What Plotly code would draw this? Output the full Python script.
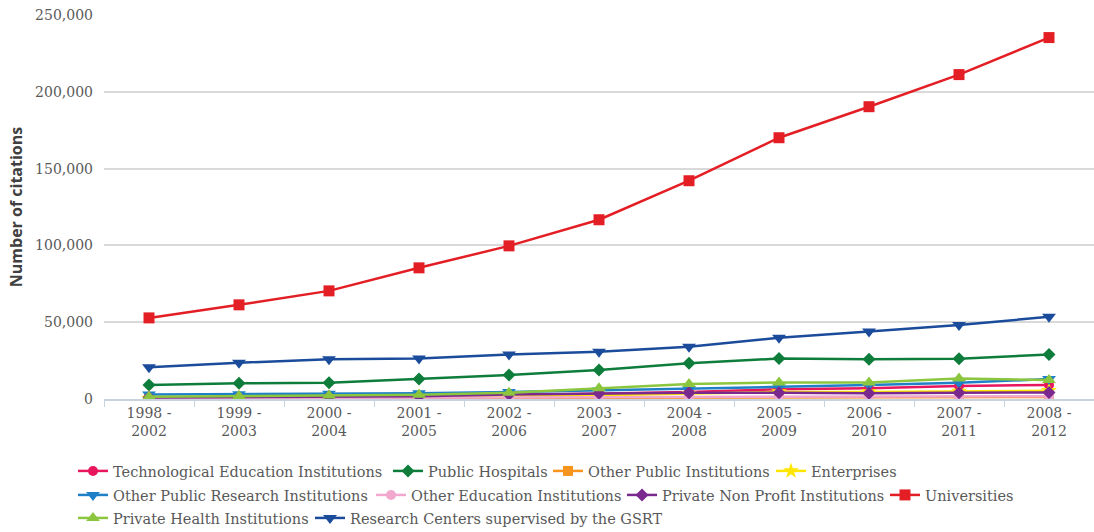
import plotly.graph_objects as go

periods = ["1998 -<br>2002", "1999 -<br>2003", "2000 -<br>2004", "2001 -<br>2005",
           "2002 -<br>2006", "2003 -<br>2007", "2004 -<br>2008", "2005 -<br>2009",
           "2006 -<br>2010", "2007 -<br>2011", "2008 -<br>2012"]

tech_education = [1000, 1200, 1500, 1900, 2500, 3500, 4500, 6300, 7000, 8500, 9100]
public_hospitals = [9100, 10200, 10600, 13000, 15600, 18900, 23200, 26400, 25800, 26200, 29000]
other_public_inst = [300, 350, 400, 450, 550, 650, 800, 1100, 1000, 1200, 1300]
enterprises = [500, 700, 1000, 1300, 1800, 2500, 3500, 4600, 4600, 5000, 5400]
other_public_research = [3000, 3100, 3400, 3700, 4500, 5500, 6500, 7900, 9100, 10600, 13000]
other_education = [500, 600, 700, 800, 1000, 1200, 1400, 1600, 1500, 1700, 1800]
private_non_profit = [900, 1100, 1400, 1800, 3000, 3700, 4000, 4100, 3700, 4100, 4200]
universities = [52800, 61300, 70400, 85400, 99700, 116700, 142100, 170100, 190300, 211200, 235300]
private_health = [1500, 2000, 2200, 2800, 4100, 7000, 9700, 10800, 10800, 13400, 12300]
research_centers = [20600, 23600, 25800, 26400, 29000, 30700, 34000, 39900, 44000, 48100, 53500]

# (name, values, colour, marker symbol, marker size)
series = [
    ("Technological Education Institutions", tech_education, "#e8175d", "circle", 10),
    ("Public Hospitals", public_hospitals, "#0e7d3b", "diamond", 10),
    ("Other Public Institutions", other_public_inst, "#f7941d", "square", 10),
    ("Enterprises", enterprises, "#ffe600", "star", 12),
    ("Other Public Research Institutions", other_public_research, "#1f80c8", "triangle-down", 12),
    ("Other Education Institutions", other_education, "#f2a7cf", "circle", 10),
    ("Private Non Profit Institutions", private_non_profit, "#7a2a8e", "diamond", 10),
    ("Universities", universities, "#e31e24", "square", 11),
    ("Private Health Institutions", private_health, "#8cc63f", "triangle-up", 12),
    ("Research Centers supervised by the GSRT", research_centers, "#1b4b9b", "triangle-down", 12),
]

# Legend entry placement (text left edge in px, row top in px), one legend box per entry
legend_slots = [(113, 455), (428, 455), (588, 455), (811, 455),
                (113, 479), (411, 479), (662, 479), (925, 479),
                (113, 502), (350, 502)]

serif = "DejaVu Serif"
text_grey = "#595959"

fig = go.Figure()
legend_layout = {}
for i, ((name, vals, color, sym, size), (tx, ty)) in enumerate(zip(series, legend_slots)):
    key = "legend" if i == 0 else f"legend{i + 1}"
    fig.add_trace(go.Scatter(
        x=periods, y=vals, name=name, mode="lines+markers",
        line=dict(color=color, width=2.5),
        marker=dict(symbol=sym, size=size, color=color),
        legend=key,
    ))
    legend_layout[key] = dict(
        orientation="h", x=(tx - 40) / 1094, xref="container",
        y=1 - ty / 532, yref="container",
        xanchor="left", yanchor="top", bgcolor="rgba(0,0,0,0)",
        font=dict(family=serif, size=14.5, color=text_grey),
        itemwidth=30,
    )

fig.update_layout(
    width=1094, height=532,
    margin=dict(l=104, r=0, t=15, b=133),
    plot_bgcolor="white", paper_bgcolor="white",
    font=dict(family=serif, size=14, color=text_grey),
    showlegend=True,
    **legend_layout,
    xaxis=dict(type="category", range=[-0.5, 10.5], showgrid=False,
               showline=True, linecolor="#c8d3df", linewidth=1.5,
               ticks="outside", tickson="boundaries", ticklen=6, tickcolor="#c8d3df",
               tickfont=dict(family=serif, size=14, color=text_grey)),
    yaxis=dict(range=[0, 250000], dtick=50000, tickformat=",",
               showgrid=True, gridcolor="#d9d9d9", gridwidth=1.5, zeroline=False,
               ticks="", ticklabelstandoff=10,
               tickfont=dict(family=serif, size=14, color=text_grey),
               title=dict(text="Number of citations", standoff=8,
                          font=dict(family="Open Sans", size=16, color="#404040", weight="bold"))),
)

fig.write_html("out.html")
